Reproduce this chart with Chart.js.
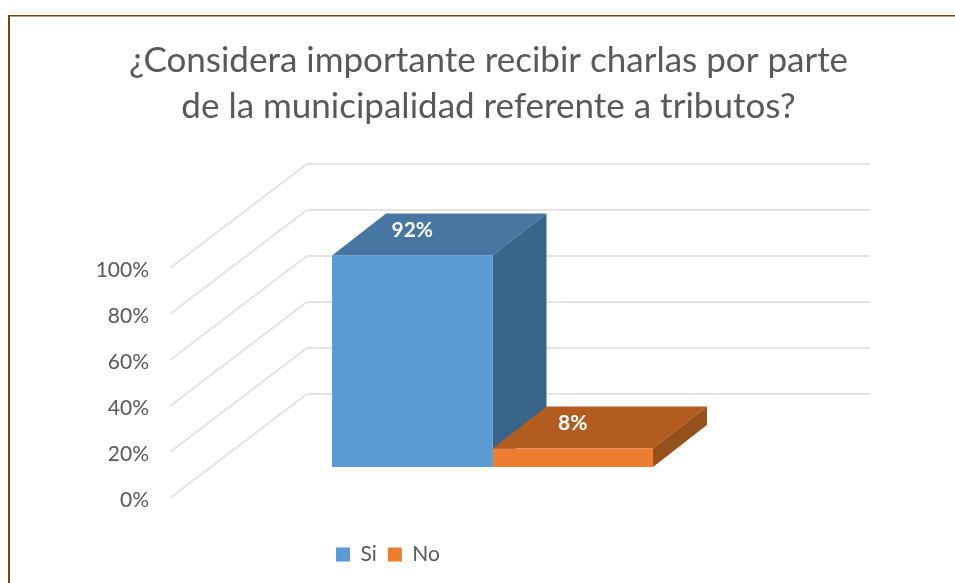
<!DOCTYPE html>
<html><head><meta charset="utf-8">
<style>html,body{margin:0;padding:0;background:#fff}#w{position:relative;width:955px;height:583px;overflow:hidden}
#t{position:absolute;left:8px;top:15px;width:947px;height:2px;background:linear-gradient(#843c0c 60%,#c49a80 60%)}
#l{position:absolute;left:8px;top:15px;width:2px;height:568px;background:#843c0c}
canvas{position:absolute;left:0;top:0}</style>
<script src="https://cdn.jsdelivr.net/npm/chart.js@4"></script></head>
<body><div id="w"><canvas id="c" width="955" height="583"></canvas><div id="t"></div><div id="l"></div></div>
<script>
const categories=[""];
const seriesNames=["Si","No"];
const siValues=[92];
const noValues=[8];
const tickLabels=["0%","20%","40%","60%","80%","100%"];
const titleLines=["¿Considera importante recibir charlas por parte","de la municipalidad referente a tributos?"];
const depth={dx:137,dy:-104};
const barPlane={dx:41,dy:-31};
const barDepth={dx:54,dy:-42};
const faces=[{top:"#4676a1",side:"#38658a"},{top:"#b35c20",side:"#96501c"}];
const FONT="Lato, Carlito, sans-serif";
function poly(ctx,pts,fill){ctx.beginPath();pts.forEach((p,i)=>i?ctx.lineTo(p[0],p[1]):ctx.moveTo(p[0],p[1]));ctx.closePath();ctx.fillStyle=fill;ctx.fill();}
const threeD={id:"threeD",
 afterLayout(ch){
  ch.titleBlock.left=22;ch.titleBlock.right=955;
  const L=ch.legend,w=L.right-L.left;L.left=388-w/2;L.right=388+w/2;
 },
 beforeDatasetsDraw(ch){const c=ch.ctx,y=ch.scales.y,x=ch.scales.x;c.save();c.strokeStyle="#e4e4e4";c.lineWidth=2;
  for(let v=0;v<=100;v+=20){const py=y.getPixelForValue(v);c.beginPath();c.moveTo(x.left,py);c.lineTo(x.left+depth.dx,py+depth.dy);c.lineTo(x.right+depth.dx,py+depth.dy);c.stroke();}
  c.restore();c.save();c.translate(barPlane.dx,barPlane.dy);
  ch.data.datasets.forEach((d,i)=>{const b=ch.getDatasetMeta(i).data[0];
   const l=b.x-b.width/2,r=b.x+b.width/2,t=b.y,bt=b.base;
   poly(c,[[l,t],[r,t],[r+barDepth.dx,t+barDepth.dy],[l+barDepth.dx,t+barDepth.dy]],faces[i].top);
   poly(c,[[r,t],[r+barDepth.dx,t+barDepth.dy],[r+barDepth.dx,bt+barDepth.dy],[r,bt]],faces[i].side);
  });
 },
 afterDatasetsDraw(ch){const c=ch.ctx;c.restore();
  ch.data.datasets.forEach((d,i)=>{const b=ch.getDatasetMeta(i).data[0];
   c.fillStyle="#fff";c.font="bold 21px "+FONT;c.textAlign="center";c.textBaseline="middle";
   c.fillText(d.data[0]+"%",b.x+barPlane.dx,b.y+barPlane.dy-25);
  });
 }};
new Chart(document.getElementById("c"),{type:"bar",
 data:{labels:categories,datasets:[
  {label:seriesNames[0],data:siValues,backgroundColor:"#5b9bd5",clip:false},
  {label:seriesNames[1],data:noValues,backgroundColor:"#ed7d31",clip:false}]},
 options:{responsive:false,animation:false,
  layout:{padding:{left:0,right:222,top:0,bottom:8}},
  categoryPercentage:0.57,barPercentage:1,
  plugins:{
   title:{display:true,text:titleLines,color:"#595959",font:{family:FONT,size:35,weight:"normal",lineHeight:46/35},padding:{top:38,bottom:138}},
   legend:{position:"bottom",labels:{boxWidth:14,boxHeight:14,padding:11,color:"#595959",font:{family:FONT,size:21}}},
   tooltip:{enabled:false}},
  scales:{
   x:{grid:{display:false},border:{display:false},ticks:{display:false},afterFit(s){s.height=35;}},
   y:{min:0,max:100,afterBuildTicks(a){a.ticks=tickLabels.map((_,i)=>({value:i*20}));},afterFit(s){s.width=170;},grid:{display:false},border:{display:false},
      ticks:{color:"#595959",font:{family:FONT,size:21},padding:13,labelOffset:2,callback:(v,i)=>tickLabels[i]}}
  }},
 plugins:[threeD]});
</script></body></html>
